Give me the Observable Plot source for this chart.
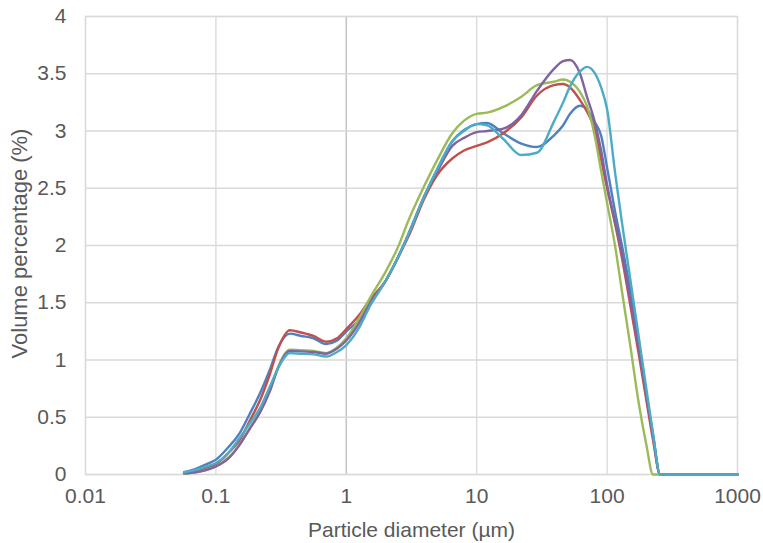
<!DOCTYPE html>
<html>
<head>
<meta charset="utf-8">
<script src="https://cdn.jsdelivr.net/npm/d3@7"></script>
<script src="https://cdn.jsdelivr.net/npm/@observablehq/plot@0.6"></script>
<style>
  html, body { margin: 0; padding: 0; background: #ffffff; }
  #chart { width: 763px; height: 543px; }
</style>
</head>
<body>
<div id="chart"></div>
<script>
// Particle diameter grid (µm)
const diameters = [0.057, 0.07, 0.085, 0.1, 0.125, 0.15, 0.18, 0.22, 0.26, 0.3, 0.37, 0.45, 0.56, 0.7, 0.85, 1,
  1.25, 1.5, 2, 2.5, 3, 4, 5, 6.5, 8, 10, 12, 16, 22, 29, 39, 46, 52, 62, 70, 80, 90, 100, 115, 130, 150, 175, 200, 225, 255, 1000];

// Volume percentage (%) per sample
const sample1 = [0.02, 0.05, 0.09, 0.13, 0.24, 0.35, 0.52, 0.72, 0.92, 1.11, 1.23, 1.21, 1.19, 1.14, 1.17, 1.25,
  1.35, 1.49, 1.69, 1.90, 2.10, 2.44, 2.67, 2.91, 3.01, 3.06, 3.07, 2.98, 2.89, 2.86, 2.96, 3.05, 3.15, 3.22, 3.19, 3.08, 2.96, 2.68, 2.30, 2.00, 1.62, 1.12, 0.68, 0.34, 0, 0];
const sample2 = [0.01, 0.03, 0.06, 0.09, 0.19, 0.29, 0.46, 0.66, 0.88, 1.10, 1.26, 1.24, 1.21, 1.16, 1.19, 1.27,
  1.39, 1.52, 1.69, 1.90, 2.08, 2.42, 2.62, 2.76, 2.83, 2.87, 2.90, 2.98, 3.12, 3.31, 3.40, 3.41, 3.38, 3.27, 3.17, 3.02, 2.75, 2.50, 2.19, 1.89, 1.49, 1.05, 0.65, 0.30, 0, 0];
const sample3 = [0.01, 0.02, 0.04, 0.07, 0.15, 0.25, 0.40, 0.56, 0.74, 0.94, 1.09, 1.085, 1.08, 1.06, 1.11, 1.19,
  1.36, 1.53, 1.77, 1.99, 2.22, 2.53, 2.75, 2.98, 3.09, 3.15, 3.16, 3.21, 3.30, 3.40, 3.43, 3.45, 3.43, 3.34, 3.22, 2.97, 2.65, 2.37, 2.00, 1.60, 1.14, 0.62, 0.26, 0, 0, 0];
const sample4 = [0.01, 0.02, 0.04, 0.07, 0.14, 0.25, 0.39, 0.55, 0.73, 0.93, 1.08, 1.075, 1.07, 1.055, 1.10, 1.17,
  1.32, 1.48, 1.69, 1.90, 2.10, 2.44, 2.65, 2.87, 2.94, 2.99, 3.00, 3.02, 3.14, 3.35, 3.54, 3.61, 3.62, 3.50, 3.30, 3.09, 2.83, 2.53, 2.21, 1.93, 1.54, 1.10, 0.69, 0.34, 0, 0];
const sample5 = [0.02, 0.04, 0.07, 0.10, 0.19, 0.31, 0.44, 0.59, 0.77, 0.93, 1.06, 1.055, 1.05, 1.03, 1.07, 1.13,
  1.28, 1.46, 1.69, 1.90, 2.10, 2.44, 2.67, 2.91, 3.00, 3.06, 3.05, 2.93, 2.79, 2.81, 3.08, 3.25, 3.39, 3.52, 3.56, 3.51, 3.38, 3.19, 2.64, 2.20, 1.72, 1.20, 0.75, 0.36, 0, 0];

const seriesNames = ["Sample 1", "Sample 2", "Sample 3", "Sample 4", "Sample 5"];
const seriesColors = ["#4F81BD", "#C0504D", "#9BBB59", "#8064A2", "#4BACC6"];

const xTicks = [0.01, 0.1, 1, 10, 100, 1000];
const xTickLabels = ["0.01", "0.1", "1", "10", "100", "1000"];
const yTicks = [0, 0.5, 1, 1.5, 2, 2.5, 3, 3.5, 4];
const yTickLabels = ["0", "0.5", "1", "1.5", "2", "2.5", "3", "3.5", "4"];

const xTitle = "Particle diameter (µm)";
const yTitle = "Volume percentage (%)";

const allSeries = [sample1, sample2, sample3, sample4, sample5];
const rows = [];
allSeries.forEach((vals, k) => {
  diameters.forEach((d, i) => rows.push({d, v: vals[i], s: seriesNames[k]}));
});

const textColor = "#595959";
const gridColor = "#d9d9d9";

const chart = Plot.plot({
  width: 763,
  height: 543,
  marginLeft: 85,
  marginRight: 26,
  marginTop: 16,
  marginBottom: 69,
  style: {fontFamily: "'Liberation Sans', Arial, sans-serif", fontSize: "21px", color: textColor, background: "#ffffff"},
  x: {type: "log", domain: [0.01, 1000]},
  y: {domain: [0, 4]},
  color: {domain: seriesNames, range: seriesColors},
  marks: [
    Plot.gridX(xTicks.filter(t => t !== 1), {stroke: gridColor, strokeOpacity: 1, strokeWidth: 1.3}),
    Plot.gridX([1], {stroke: "#c4c4c4", strokeOpacity: 1, strokeWidth: 1.5}),
    Plot.gridY(yTicks, {stroke: gridColor, strokeOpacity: 1, strokeWidth: 1.3}),
    Plot.frame({stroke: gridColor, strokeWidth: 1.3}),
    Plot.axisX(xTicks, {tickSize: 0, tickPadding: 14, tickFormat: (d) => xTickLabels[xTicks.indexOf(d)], label: null, fontSize: 21, fill: textColor}),
    Plot.axisY(yTicks, {tickSize: 0, tickPadding: 19, tickFormat: (d) => yTickLabels[yTicks.indexOf(d)], label: null, fontSize: 21, fill: textColor}),
    Plot.text([xTitle], {frameAnchor: "bottom", dy: 62, lineAnchor: "bottom", textAnchor: "middle", fontSize: 21, fill: textColor, letterSpacing: "0.45px"}),
    Plot.text([yTitle], {frameAnchor: "left", dx: -66, dy: -2, rotate: -90, textAnchor: "middle", lineAnchor: "middle", fontSize: 22, fill: textColor, letterSpacing: "0.4px"}),
    Plot.line(rows, {x: "d", y: "v", z: "s", stroke: "s", curve: "monotone-x", strokeWidth: 2.4})
  ]
});

document.getElementById("chart").appendChild(chart);
</script>
</body>
</html>
